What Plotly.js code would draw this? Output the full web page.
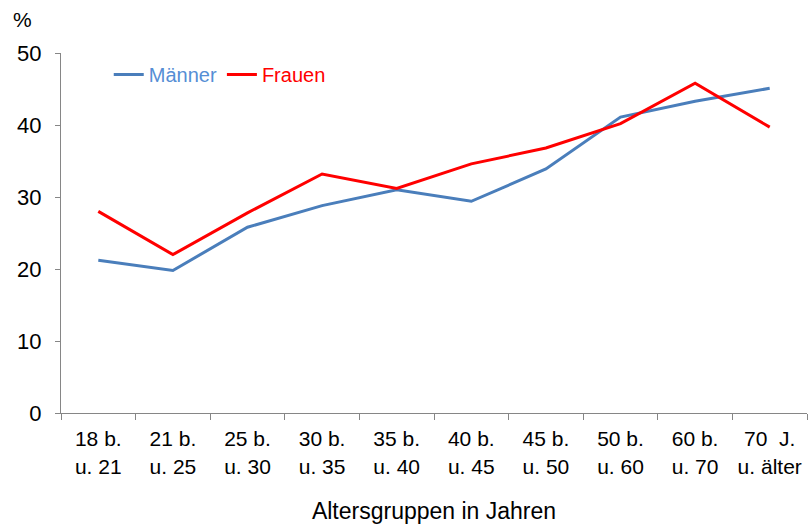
<!DOCTYPE html>
<html>
<head>
<meta charset="utf-8">
<script src="https://cdn.plot.ly/plotly-3.0.1.min.js"></script>
<style>html,body{margin:0;padding:0;background:#fff;}#chart{width:808px;height:524px;}</style>
</head>
<body>
<div id="chart"></div>
<script>
const categories = ["18 b.<br>u. 21", "21 b.<br>u. 25", "25 b.<br>u. 30", "30 b.<br>u. 35", "35 b.<br>u. 40", "40 b.<br>u. 45", "45 b.<br>u. 50", "50 b.<br>u. 60", "60 b.<br>u. 70", "70  J.<br>u. älter"];
const maenner = [21.2, 19.8, 25.8, 28.8, 31.0, 29.4, 33.9, 41.1, 43.3, 45.1];
const frauen = [28.0, 22.0, 27.8, 33.2, 31.2, 34.6, 36.8, 40.2, 45.8, 39.7];
const yTicks = [0, 10, 20, 30, 40, 50];

const blue = "#4a7ebb";
const red = "#ff0000";

const traces = [
  {x: categories, y: maenner, type: "scatter", mode: "lines", name: '<span style="color:#558ed5">Männer</span>',
   line: {color: blue, width: 3}},
  {x: categories, y: frauen, type: "scatter", mode: "lines", name: '<span style="color:#ff0000">Frauen</span>',
   line: {color: red, width: 3}}
];

const layout = {
  width: 808, height: 524,
  margin: {l: 61, r: 1, t: 53, b: 111},
  paper_bgcolor: "#fff", plot_bgcolor: "#fff",
  font: {family: "Liberation Sans, Arial, sans-serif", size: 21, color: "#000"},
  showlegend: true,
  legend: {orientation: "h", x: 0.064, y: 0.94, xanchor: "left", yanchor: "middle",
           font: {size: 20}, bgcolor: "rgba(0,0,0,0)", itemwidth: 30},
  xaxis: {
    type: "category", range: [-0.5, 9.5], tickson: "boundaries",
    showline: true, linecolor: "#868686", linewidth: 1,
    ticks: "outside", ticklen: 6, tickcolor: "#868686",
    showgrid: false, zeroline: false, tickangle: 0,
    tickfont: {size: 21}, ticklabelstandoff: 7,
    title: {text: "Altersgruppen in Jahren", font: {size: 23}, standoff: 27}
  },
  yaxis: {
    range: [0, 50], tickvals: yTicks, ticktext: yTicks.map(String),
    showline: true, linecolor: "#868686", linewidth: 1,
    ticks: "outside", ticklen: 5, tickcolor: "#868686",
    showgrid: false, zeroline: false, tickfont: {size: 22}, ticklabelstandoff: 9
  },
  annotations: [
    {text: "%", xref: "paper", yref: "paper", x: -0.051, y: 1.092, xanchor: "center", yanchor: "middle",
     showarrow: false, font: {size: 21}}
  ]
};

Plotly.newPlot("chart", traces, layout, {displayModeBar: false, staticPlot: true});
</script>
</body>
</html>
